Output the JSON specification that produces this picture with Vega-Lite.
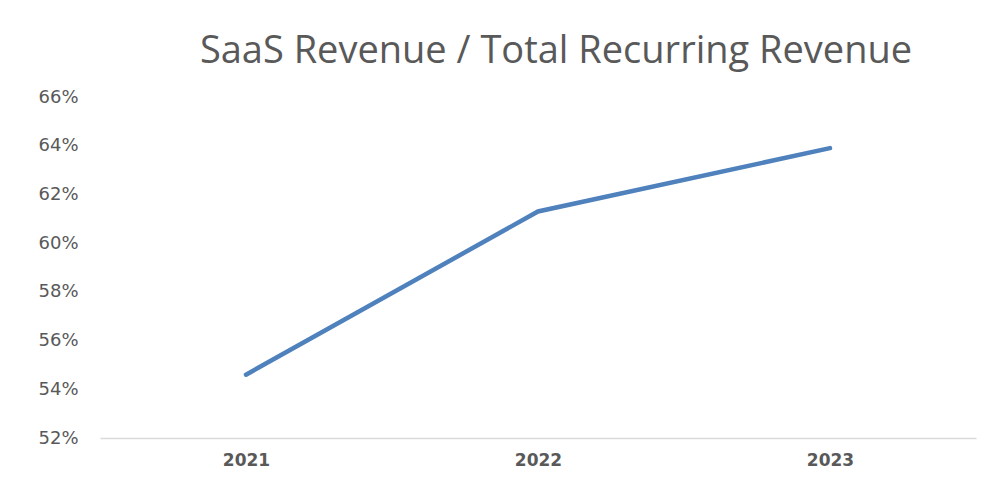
{
  "$schema": "https://vega.github.io/schema/vega-lite/v6.json",
  "width": 876,
  "height": 341,
  "autosize": "none",
  "padding": {"left": 100, "top": 97, "right": 10, "bottom": 46},
  "background": "white",
  "title": {
    "text": "SaaS Revenue / Total Recurring Revenue",
    "font": "Open Sans",
    "fontSize": 38,
    "fontWeight": "normal",
    "color": "#595959",
    "anchor": "middle",
    "dx": 18,
    "offset": 17
  },
  "data": {
    "values": [
      {"year": "2021", "ratio": 0.546},
      {"year": "2022", "ratio": 0.613},
      {"year": "2023", "ratio": 0.639}
    ]
  },
  "mark": {"type": "line", "color": "#4f81bd", "strokeWidth": 4.5, "strokeCap": "round"},
  "encoding": {
    "x": {
      "field": "year",
      "type": "ordinal",
      "scale": {"paddingInner": 0, "paddingOuter": 0.5},
      "axis": {
        "title": null,
        "labelAngle": 0,
        "ticks": false,
        "domainColor": "#d9d9d9",
        "domainWidth": 1.5,
        "labelFont": "DejaVu Sans",
        "labelFontSize": 17,
        "labelFontWeight": "bold",
        "labelColor": "#595959",
        "labelPadding": 14
      }
    },
    "y": {
      "field": "ratio",
      "type": "quantitative",
      "scale": {"domain": [0.52, 0.66], "nice": false, "zero": false},
      "axis": {
        "title": null,
        "format": ".0%",
        "values": [0.52, 0.54, 0.56, 0.58, 0.6, 0.62, 0.64, 0.66],
        "grid": false,
        "domain": false,
        "ticks": false,
        "labelFont": "DejaVu Sans",
        "labelFontSize": 18,
        "labelColor": "#595959",
        "labelPadding": 22
      }
    }
  },
  "config": {"view": {"stroke": null}}
}
